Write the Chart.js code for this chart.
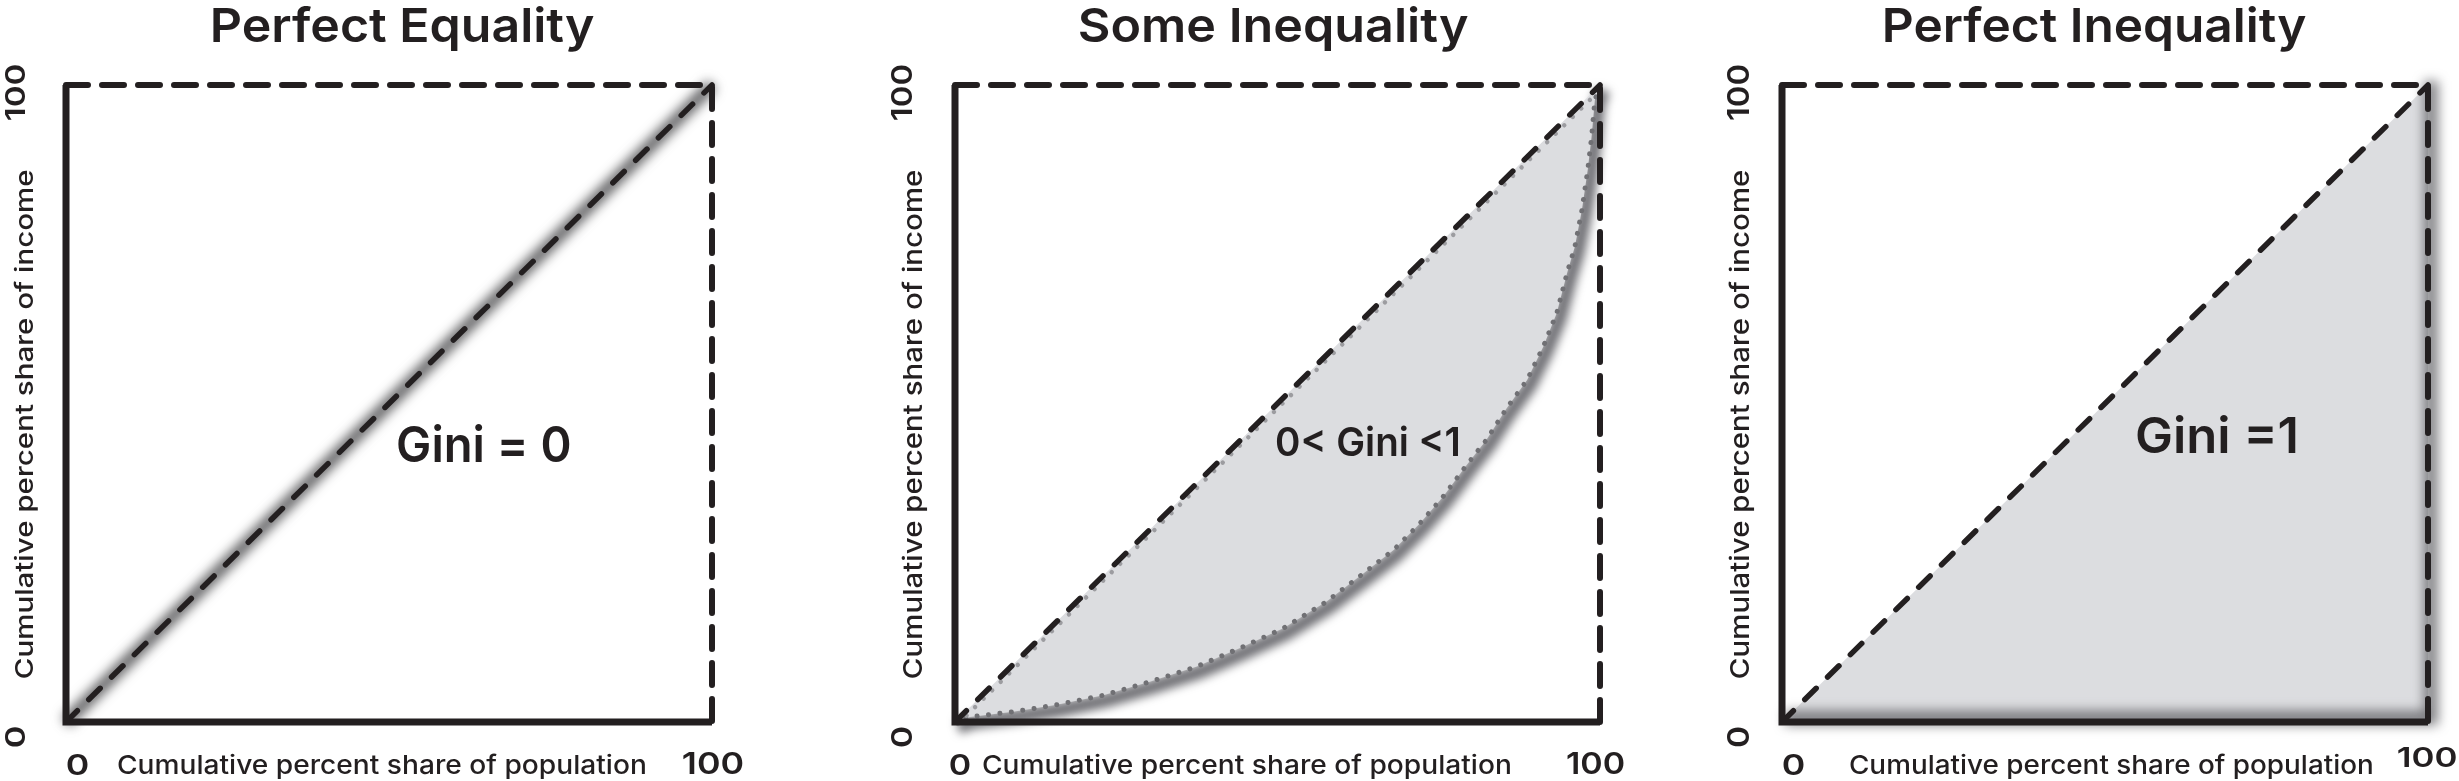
<!DOCTYPE html>
<html><head><meta charset="utf-8">
<script src="https://cdn.jsdelivr.net/npm/chart.js@4.4.1/dist/chart.umd.min.js"></script>
<style>
html,body{margin:0;padding:0;background:#fff;}
body{width:2459px;height:781px;position:relative;overflow:hidden;}
canvas{position:absolute;top:0;}
</style></head><body>
<canvas id="c0" width="820" height="781" style="left:0px"></canvas>
<canvas id="c1" width="820" height="781" style="left:820px"></canvas>
<canvas id="c2" width="819" height="781" style="left:1640px"></canvas>
<script>
// ---------------- data ----------------
const panelTitles = ['Perfect Equality', 'Some Inequality', 'Perfect Inequality'];
const giniLabels = ['Gini = 0', '0< Gini <1', 'Gini =1'];
const xAxisTitle = 'Cumulative percent share of population';
const yAxisTitle = 'Cumulative percent share of income';
const xTickLabels = ['0', '100'];
const yTickLabels = ['0', '100'];
const axisMin = 0;
const axisMax = 100;
// line of equality (diagonal)
const equalityX = [0, 100];
const equalityY = [0, 100];
// Lorenz curve, "Some Inequality"
const lorenzX = [0, 2.3, 9, 15.8, 23, 30.2, 37.5, 44.2, 50.9, 57.6, 63.3, 68, 72.1, 75.7, 79.3, 82.4, 85.5, 88.7, 91.2, 93.3, 94.9, 96.1, 97.2, 98.1, 98.7, 99.2, 100];
const lorenzY = [0, 0.8, 1.6, 2.7, 4.2, 6.3, 8.7, 11.6, 14.7, 18.9, 23.3, 27, 31.2, 35.4, 40.3, 44.3, 49.2, 53.7, 58.9, 64.2, 70.5, 74.6, 80.4, 86.7, 91.9, 97.6, 100];
// Lorenz curve, "Perfect Inequality"
const inequalityX = [0, 100, 100];
const inequalityY = [0, 0, 100];
// frame: solid axes (left, bottom) and dashed box edges (top, right)
const frameSolidX = [axisMin, axisMin, axisMax];
const frameSolidY = [axisMax, axisMin, axisMin];
const frameDashX = [axisMin, axisMax, axisMax];
const frameDashY = [axisMax, axisMax, axisMin];

// ---------------- layout / style ----------------
const INK = '#231f20';
const FILL = '#dcdde0';
const H = 781;
const panels = [
  {cl:0, cw:820, l:66, r:712, t:85, b:722,
   title:[213,594], gini:[398,570,426,462], xlab:[118,645], x0:[67,88], x100:[683,743,752,774], ytick:[5,25], ylab:[15,33]},
  {cl:820, cw:820, l:955, r:1600, t:85, b:722,
   title:[1080,1468], gini:[1277,1458,427,456], xlab:[983,1510], x0:[950,970], x100:[1567,1624,752,774], ytick:[891,912], ylab:[903,922]},
  {cl:1640, cw:819, l:1782, r:2428, t:85, b:722,
   title:[1885,2306], gini:[2137,2296,417,453], xlab:[1850,2372], x0:[1783,1804], x100:[2398,2456,747,767], ytick:[1727,1749], ylab:[1730,1749]}
];
const TITLE_TB = [8, 42];
const XLAB_TB = [755, 774];
const X0_TB = [754, 775];
const Y100_Y = [65, 120];
const Y0_Y = [727, 747];
const YLAB_Y = [170, 678];

function pts(xs, ys) { return xs.map((x, i) => ({x: x, y: ys[i]})); }

function lineDs(data, o) {
  return Object.assign({
    type: 'line', data: data, pointRadius: 0, pointHoverRadius: 0, fill: false,
    tension: 0, clip: false, borderColor: INK, borderWidth: 0,
    borderCapStyle: 'butt', borderJoinStyle: 'miter', backgroundColor: 'transparent'
  }, o);
}

const fxPlugin = {
  id: 'fx',
  beforeDatasetDraw(chart, args) {
    const ds = chart.data.datasets[args.index];
    if (ds.fx) {
      const ctx = chart.ctx; ctx.save();
      if (ds.fx.blur) ctx.filter = 'blur(' + ds.fx.blur + 'px)';
      ctx.translate(ds.fx.dx || 0, ds.fx.dy || 0);
    }
  },
  afterDatasetDraw(chart, args) {
    const ds = chart.data.datasets[args.index];
    if (ds.fx) chart.ctx.restore();
  }
};

function drawFitted(ctx, text, len, capH, weight, rotate, ax, ay) {
  const size = capH / 0.727;
  ctx.save();
  ctx.font = weight + ' ' + size.toFixed(2) + 'px Inter, "Noto Sans", sans-serif';
  ctx.textBaseline = 'alphabetic';
  ctx.textAlign = 'left';
  const m = ctx.measureText(text);
  const inkW = m.actualBoundingBoxLeft + m.actualBoundingBoxRight;
  const sx = len / inkW;
  ctx.translate(ax, ay);
  if (rotate) ctx.rotate(-Math.PI / 2);
  ctx.scale(sx, 1);
  ctx.fillStyle = INK;
  ctx.fillText(text, m.actualBoundingBoxLeft, 0);
  ctx.restore();
}

function textPlugin(i) {
  const p = panels[i];
  return {
    id: 'texts' + i,
    afterDraw(chart) {
      const ctx = chart.ctx;
      ctx.save();
      ctx.translate(-p.cl, 0);
      drawFitted(ctx, panelTitles[i], p.title[1] - p.title[0], TITLE_TB[1] - TITLE_TB[0], 600, false, p.title[0], TITLE_TB[1]);
      drawFitted(ctx, giniLabels[i], p.gini[1] - p.gini[0], p.gini[3] - p.gini[2], 600, false, p.gini[0], p.gini[3]);
      drawFitted(ctx, xAxisTitle, p.xlab[1] - p.xlab[0], XLAB_TB[1] - XLAB_TB[0], 500, false, p.xlab[0], XLAB_TB[1]);
      drawFitted(ctx, xTickLabels[0], p.x0[1] - p.x0[0], X0_TB[1] - X0_TB[0], 600, false, p.x0[0], X0_TB[1]);
      drawFitted(ctx, xTickLabels[1], p.x100[1] - p.x100[0], p.x100[3] - p.x100[2], 600, false, p.x100[0], p.x100[3]);
      drawFitted(ctx, yTickLabels[1], Y100_Y[1] - Y100_Y[0], p.ytick[1] - p.ytick[0], 600, true, p.ytick[1], Y100_Y[1]);
      drawFitted(ctx, yTickLabels[0], Y0_Y[1] - Y0_Y[0], p.ytick[1] - p.ytick[0], 600, true, p.ytick[1], Y0_Y[1]);
      drawFitted(ctx, yAxisTitle, YLAB_Y[1] - YLAB_Y[0], p.ylab[1] - p.ylab[0], 500, true, p.ylab[1], YLAB_Y[1]);
      ctx.restore();
    }
  };
}

function baseDatasets() {
  return [
    lineDs(pts(frameSolidX, frameSolidY), {borderWidth: 7, order: 0}),
    lineDs(pts(frameDashX, frameDashY), {borderWidth: 6, borderDash: [22, 14], borderCapStyle: 'round', order: 1}),
    lineDs(pts(equalityX, equalityY), {borderWidth: 5.5, borderDash: [16, 16], borderCapStyle: 'round', order: 2})
  ];
}

function panelDatasets(i) {
  const ds = baseDatasets();
  if (i === 0) {
    ds.push(lineDs(pts(equalityX, equalityY), {borderColor: 'rgba(60,60,62,0.85)', borderWidth: 12, order: 5, fx: {blur: 6}}));
  } else if (i === 1) {
    ds.push(lineDs(pts(equalityX, equalityY), {borderColor: '#9c9ca0', borderWidth: 4.5, borderDash: [0.001, 12], borderCapStyle: 'round', order: 3, fx: {dx: 3, dy: 2}}));
    ds.push(lineDs(pts(lorenzX, lorenzY), {borderColor: '#707074', borderWidth: 5, borderDash: [0.001, 11.5], borderCapStyle: 'round', order: 4}));
    ds.push(lineDs(pts(lorenzX, lorenzY), {borderWidth: 0, backgroundColor: FILL, fill: {target: 2}, order: 5}));
    ds.push(lineDs(pts(lorenzX, lorenzY), {borderColor: 'rgba(85,85,90,0.85)', borderWidth: 14, order: 6, fx: {blur: 5, dx: 3, dy: 5}}));
  } else {
    ds.push(lineDs(pts(inequalityX, inequalityY), {borderColor: 'rgba(85,85,90,0.75)', borderWidth: 14, order: 3, fx: {blur: 6, dx: 3, dy: -4}}));
    ds.push(lineDs(pts(equalityX, equalityY), {borderWidth: 0, backgroundColor: FILL, fill: 'origin', order: 4}));
  }
  return ds;
}

panels.forEach((p, i) => {
  new Chart(document.getElementById('c' + i), {
    type: 'line',
    data: {datasets: panelDatasets(i)},
    options: {
      responsive: false, animation: false, devicePixelRatio: 1,
      layout: {padding: {left: p.l - p.cl, right: p.cl + p.cw - p.r, top: p.t, bottom: H - p.b}},
      scales: {
        x: {type: 'linear', min: axisMin, max: axisMax, display: false},
        y: {type: 'linear', min: axisMin, max: axisMax, display: false}
      },
      plugins: {legend: {display: false}, tooltip: {enabled: false}, title: {display: false}},
      events: []
    },
    plugins: [fxPlugin, textPlugin(i)]
  });
});
</script>
</body></html>
